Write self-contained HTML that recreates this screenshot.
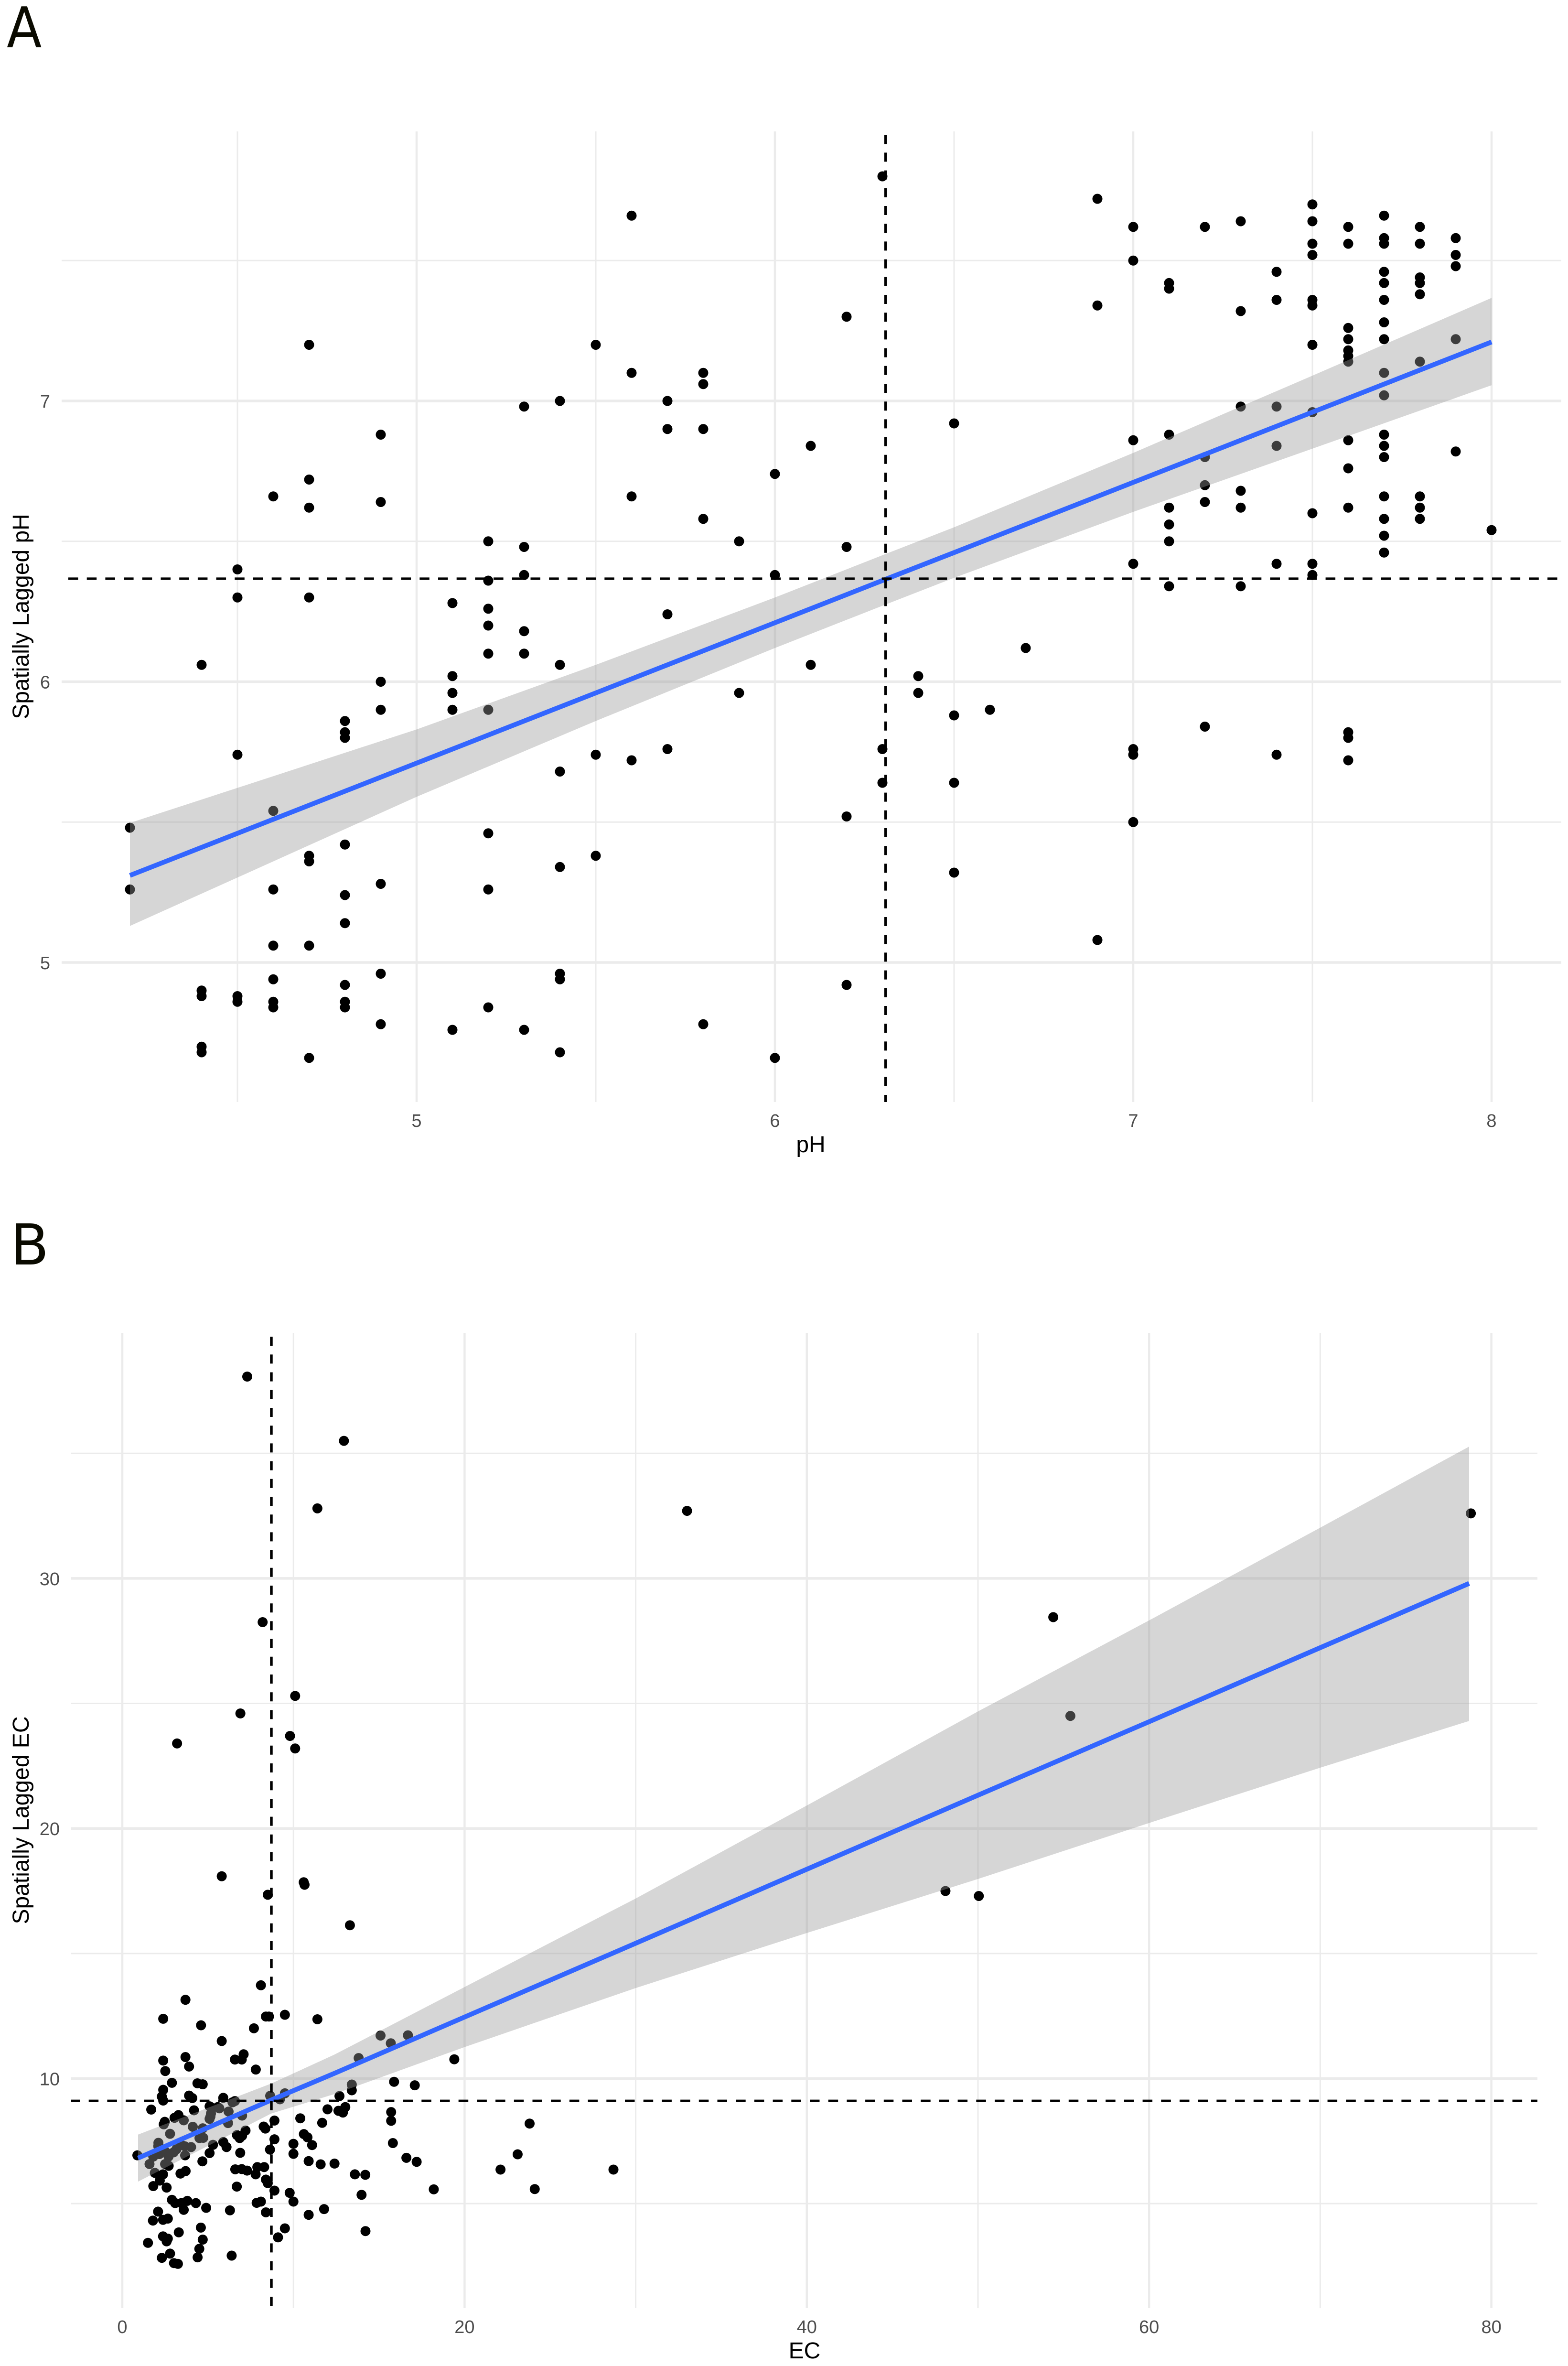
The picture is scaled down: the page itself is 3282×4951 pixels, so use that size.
<!DOCTYPE html>
<html lang="en">
<head>
<meta charset="utf-8">
<title>Spatial lag scatter plots of pH and EC</title>
<style>
html,body{margin:0;padding:0;background:#fff;}
svg{display:block;}
text{font-family:"Liberation Sans",Arial,sans-serif;}
</style>
</head>
<body>
<svg id="figure" xmlns="http://www.w3.org/2000/svg" width="3282" height="4951" viewBox="0 0 3282 4951">
  <rect x="0" y="0" width="3282" height="4951" fill="#ffffff"/>
  <g id="panel-a"></g>
  <g id="panel-b"></g>
  <text transform="translate(14 99) scale(0.91 1)" style="font-family:'DejaVu Sans',sans-serif" font-size="118" fill="#0a0a00">A</text>
  <text x="21.5" y="2646" style="font-family:'DejaVu Sans',sans-serif" font-size="118" fill="#0a0a00">B</text>
  <text x="1697" y="2411" font-size="48" text-anchor="middle" fill="#000">pH</text>
  <text transform="translate(60 1290) rotate(-90)" font-size="48" text-anchor="middle" fill="#000">Spatially Lagged pH</text>
  <text x="1684" y="4935" font-size="48" text-anchor="middle" fill="#000">EC</text>
  <text transform="translate(60 3809) rotate(-90)" font-size="48" text-anchor="middle" fill="#000">Spatially Lagged EC</text>
</svg>
<script>
/* ---------- Panel A data ---------- */
const phColumns = [4.2,4.4,4.5,4.6,4.7,4.8,4.9,5.1,5.2,5.3,5.4,5.5,5.6,5.7,5.8,5.9,6.0,6.1,6.2,6.3,6.4,6.5,6.6,6.7,6.9,7.0,7.1,7.2,7.3,7.4,7.5,7.6,7.7,7.8,7.9,8.0];
const phLagByColumn = [
  [5.48,5.26],
  [6.06,4.90,4.88,4.70,4.68],
  [6.40,6.30,5.74,4.88,4.86],
  [6.66,5.54,5.26,5.06,4.94,4.86,4.84],
  [7.20,6.72,6.62,6.30,5.38,5.36,5.06,4.66],
  [5.86,5.82,5.80,5.42,5.24,5.14,4.92,4.86,4.84],
  [6.88,6.64,6.00,5.90,5.28,4.96,4.78],
  [6.28,6.02,5.96,5.90,4.76],
  [6.50,6.36,6.26,6.20,6.10,5.90,5.46,5.26,4.84],
  [6.98,6.48,6.38,6.18,6.10,4.76],
  [7.00,6.06,5.68,5.34,4.96,4.94,4.68],
  [7.20,5.74,5.38],
  [7.66,7.10,6.66,5.72],
  [7.00,6.90,6.24,5.76],
  [7.10,7.06,6.90,6.58,4.78],
  [6.50,5.96],
  [6.74,6.38,4.66],
  [6.84,6.06],
  [7.30,6.48,5.52,4.92],
  [7.80,5.76,5.64],
  [6.02,5.96],
  [6.92,5.88,5.64,5.32],
  [5.90],
  [6.12],
  [7.72,7.34,5.08],
  [7.62,7.50,6.86,6.42,5.76,5.74,5.50],
  [7.42,7.40,6.88,6.62,6.56,6.50,6.34],
  [7.62,6.80,6.70,6.64,5.84],
  [7.64,7.32,6.98,6.68,6.62,6.34],
  [7.46,7.36,6.98,6.84,6.42,5.74],
  [7.70,7.64,7.56,7.52,7.36,7.34,7.20,6.96,6.60,6.42,6.38],
  [7.62,7.56,7.26,7.22,7.18,7.16,7.14,6.86,6.76,6.62,5.82,5.80,5.72],
  [7.66,7.58,7.56,7.46,7.42,7.36,7.28,7.22,7.10,7.02,6.88,6.84,6.80,6.66,6.58,6.52,6.46],
  [7.62,7.56,7.44,7.42,7.38,7.14,6.66,6.62,6.58],
  [7.58,7.52,7.48,7.22,6.82],
  [6.54]
];
const phFitX = [4.2,5,5.5,6,6.307,6.5,7,7.5,8];
const phFitY = [5.31,5.71,5.96,6.21,6.364,6.46,6.71,6.96,7.21];
const phFitUpper = [5.497,5.83,6.06,6.30,6.454,6.55,6.815,7.09,7.367];
const phFitLower = [5.13,5.59,5.86,6.12,6.274,6.37,6.605,6.83,7.056];
const phMeanX = [6.309];
const phMeanY = [6.367];
const phXMajor = [5,6,7,8];
const phXMinor = [4.5,5.5,6.5,7.5];
const phYMajor = [5,6,7];
const phYMinor = [5.5,6.5,7.5];
const phXTickLabels = ['5','6','7','8'];
const phYTickLabels = ['5','6','7'];

/* ---------- Panel B data ---------- */
const ecValues = [
  7.3,12.95,11.4,33.0,78.8,8.2,54.4,6.9,55.4,10.1,
  9.8,10.1,3.2,5.81,10.6,10.65,8.5,48.1,50.05,13.3,
  8.1,3.69,2.39,4.6,8.39,8.57,9.5,11.4,7.69,5.81,
  7.09,6.58,6.98,3.69,2.39,3.9,2.51,7.8,2.9,4.39,
  4.7,2.39,2.31,2.39,3.9,4.09,5.9,6.58,5.1,1.69,
  4.19,5.67,5.18,6.21,3.28,3.05,2.48,2.42,3.59,5.1,
  7.0,6.18,4.12,4.7,2.79,2.11,4.73,4.51,5.3,5.9,
  6.09,6.7,7.2,6.86,8.36,8.89,8.89,8.63,6.89,5.1,
  4.68,3.16,3.66,4.02,3.67,2.52,2.16,1.81,0.88,1.59,
  2.5,2.71,1.9,2.38,2.19,1.81,2.59,3.4,3.7,2.9,
  3.09,3.45,3.8,4.3,3.59,4.9,6.29,6.69,6.6,6.98,
  7.29,7.89,8.29,7.79,8.39,8.5,8.89,10.0,10.0,10.4,
  10.61,10.82,11.09,10.89,11.59,12.4,11.68,11.99,12.63,12.89,
  13.03,12.69,13.41,13.41,13.81,15.09,15.69,16.69,15.88,17.09,
  15.71,15.71,15.81,16.6,17.2,18.2,13.59,14.2,13.98,14.21,
  11.79,10.89,10.0,9.78,7.85,8.1,8.39,9.5,9.1,2.09,
  1.79,2.38,2.66,3.3,2.38,2.66,2.59,1.5,4.59,4.7,
  4.5,4.4,6.39,2.79,2.31,3.02,3.25,8.64,9.5,9.21,
  5.58,6.44,5.15,7.0,19.4,23.8,23.1,22.1,24.1,28.7,
  3.0,3.45,2.1,2.7,8.26,5.18
];
const ecLagValues = [
  38.07,35.5,32.8,32.7,32.6,28.25,28.45,24.6,24.5,25.3,
  23.7,23.2,23.4,18.09,17.85,17.75,17.35,17.5,17.3,16.13,
  13.73,13.15,12.39,12.13,12.48,12.48,12.55,12.37,12.01,11.5,
  10.97,10.76,10.76,10.86,10.72,10.48,10.3,10.36,9.83,9.81,
  9.77,9.55,9.28,9.12,9.32,9.22,9.23,9.1,8.89,8.76,
  8.73,8.81,8.6,8.68,8.54,8.43,8.27,8.17,8.33,8.39,
  8.52,8.22,8.07,8.01,7.79,7.43,7.63,7.62,7.35,7.46,
  7.26,7.74,7.92,7.62,8.0,8.32,7.57,7.16,7.03,7.02,
  6.69,7.17,7.29,7.26,6.93,7.07,6.98,6.88,6.93,6.58,
  6.58,6.51,6.23,6.17,5.92,5.7,5.64,6.2,6.3,5.15,
  5.02,5.02,5.11,5.02,4.75,4.83,4.73,5.68,6.37,6.38,
  6.32,6.46,6.46,6.17,5.96,5.82,5.52,7.39,6.99,8.41,
  7.78,7.65,7.34,6.7,6.57,6.6,8.23,8.77,8.71,8.64,
  8.86,9.3,9.76,9.53,10.82,11.72,11.41,11.73,9.87,9.73,
  8.66,8.31,7.42,6.83,6.67,5.57,6.17,6.15,5.35,3.9,
  4.78,4.55,5.08,5.43,5.03,5.08,4.65,4.01,3.65,4.68,
  4.32,4.35,4.4,3.85,3.69,3.6,3.49,3.43,4.04,3.56,
  3.19,2.85,2.92,3.0,2.83,2.62,2.59,9.31,9.41,9.17,
  8.86,9.05,8.48,7.71,10.77,8.2,6.97,6.36,5.58,6.36,
  7.05,7.35,7.3,6.88,8.08,8.85
];
const ecFitX = [0.92,8.7,12.4,20,30,40,50,60,70,78.7];
const ecFitY = [6.82,9.14,10.21,12.46,15.41,18.37,21.33,24.27,27.23,29.8];
const ecFitUpper = [7.76,9.8,10.96,13.66,17.2,20.92,24.68,28.32,32.03,35.27];
const ecFitLower = [5.88,8.6,9.38,11.26,13.62,15.82,17.98,20.22,22.43,24.3];
const ecMeanX = [8.71];
const ecMeanY = [9.11];
const ecXMajor = [0,20,40,60,80];
const ecXMinor = [10,30,50,70];
const ecYMajor = [10,20,30];
const ecYMinor = [5,15,25,35];
const ecXTickLabels = ['0','20','40','60','80'];
const ecYTickLabels = ['10','20','30'];

/* ---------- Axis functions ---------- */
const xPh = v => 872 + (v - 5) * 750;
const yPh = v => 2014 - (v - 5) * 587.5;
const xEc = v => 256 + v * 35.82;
const yEc = v => 4349.5 - (v - 10) * 52.33;

const NS = 'http://www.w3.org/2000/svg';
function el(parent, tag, attrs) {
  const n = document.createElementNS(NS, tag);
  for (const k in attrs) n.setAttribute(k, attrs[k]);
  parent.appendChild(n);
  return n;
}

function drawPanel(cfg) {
  const g = document.getElementById(cfg.id);
  const b = cfg.box;

  cfg.yMinor.forEach(v => {
    const l = el(g, 'line', {x1:b.l, x2:b.r, y1:cfg.y(v), y2:cfg.y(v), stroke:'#ebebeb', 'stroke-width':3});
    
    
  });
  cfg.xMinor.forEach(v => {
    const l = el(g, 'line', {x1:cfg.x(v), x2:cfg.x(v), y1:b.t, y2:b.b, stroke:'#ebebeb', 'stroke-width':3});
    
    
  });
  cfg.yMajor.forEach(v => {
    const l = el(g, 'line', {x1:b.l, x2:b.r, y1:cfg.y(v), y2:cfg.y(v), stroke:'#ebebeb', 'stroke-width':5.5});
    
    
  });
  cfg.xMajor.forEach(v => {
    const l = el(g, 'line', {x1:cfg.x(v), x2:cfg.x(v), y1:b.t, y2:b.b, stroke:'#ebebeb', 'stroke-width':4.5});
    
    
  });

  cfg.xMajor.forEach((v, i) => {
    const t = el(g, 'text', {x:cfg.x(v), y:b.b + 52, 'text-anchor':'middle', 'font-size':38, fill:'#4d4d4d'});
    t.textContent = cfg.xLabels[i];
    
    
  });
  cfg.yMajor.forEach((v, i) => {
    const t = el(g, 'text', {x:b.l - 24, y:cfg.y(v) + 14, 'text-anchor':'end', 'font-size':38, fill:'#4d4d4d'});
    t.textContent = cfg.yLabels[i];
    
    
  });

  cfg.xs.forEach((xv, i) => {
    const c = el(g, 'circle', {cx:cfg.x(xv), cy:cfg.y(cfg.ys[i]), r:10.5, fill:'#000'});
    
    
  });

  let d = '';
  cfg.fitX.forEach((xv, i) => { d += (i ? 'L' : 'M') + cfg.x(xv).toFixed(1) + ' ' + cfg.y(cfg.fitUpper[i]).toFixed(1); });
  for (let i = cfg.fitX.length - 1; i >= 0; i--) { d += 'L' + cfg.x(cfg.fitX[i]).toFixed(1) + ' ' + cfg.y(cfg.fitLower[i]).toFixed(1); }
  const ribbon = el(g, 'path', {d:d + 'Z', fill:'#999999', 'fill-opacity':0.4});
  
  

  const pts = cfg.fitX.map((xv, i) => cfg.x(xv).toFixed(1) + ',' + cfg.y(cfg.fitY[i]).toFixed(1)).join(' ');
  const fit = el(g, 'polyline', {points:pts, fill:'none', stroke:'#3366ff', 'stroke-width':10});
  
  

  const vMean = el(g, 'line', {x1:cfg.x(cfg.meanX[0]), x2:cfg.x(cfg.meanX[0]), y1:b.t, y2:b.b, stroke:'#000', 'stroke-width':5.5, 'stroke-dasharray':'19 18.2', 'stroke-dashoffset':cfg.vDashOffset});
  
  
  const hMean = el(g, 'line', {x1:b.l, x2:b.r, y1:cfg.y(cfg.meanY[0]), y2:cfg.y(cfg.meanY[0]), stroke:'#000', 'stroke-width':5, 'stroke-dasharray':'20.5 18.2', 'stroke-dashoffset':cfg.hDashOffset});
  
  
}

const phXs = [];
const phYs = [];
phColumns.forEach((c, i) => phLagByColumn[i].forEach(v => { phXs.push(c); phYs.push(v); }));

drawPanel({
  id:'panel-a', box:{l:129, r:3268, t:275, b:2306}, x:xPh, y:yPh,
  xs:phXs, ys:phYs, fitX:phFitX, fitY:phFitY, fitUpper:phFitUpper, fitLower:phFitLower,
  meanX:phMeanX, meanY:phMeanY, xMajor:phXMajor, xMinor:phXMinor, yMajor:phYMajor, yMinor:phYMinor,
  xLabels:phXTickLabels, yLabels:phYTickLabels, vDashOffset:30, hDashOffset:24.7
});
drawPanel({
  id:'panel-b', box:{l:149, r:3218, t:2789, b:4830}, x:xEc, y:yEc,
  xs:ecValues, ys:ecLagValues, fitX:ecFitX, fitY:ecFitY, fitUpper:ecFitUpper, fitLower:ecFitLower,
  meanX:ecMeanX, meanY:ecMeanY, xMajor:ecXMajor, xMinor:ecXMinor, yMajor:ecYMajor, yMinor:ecYMinor,
  xLabels:ecXTickLabels, yLabels:ecYTickLabels, vDashOffset:29, hDashOffset:2
});
</script>
</body>
</html>
